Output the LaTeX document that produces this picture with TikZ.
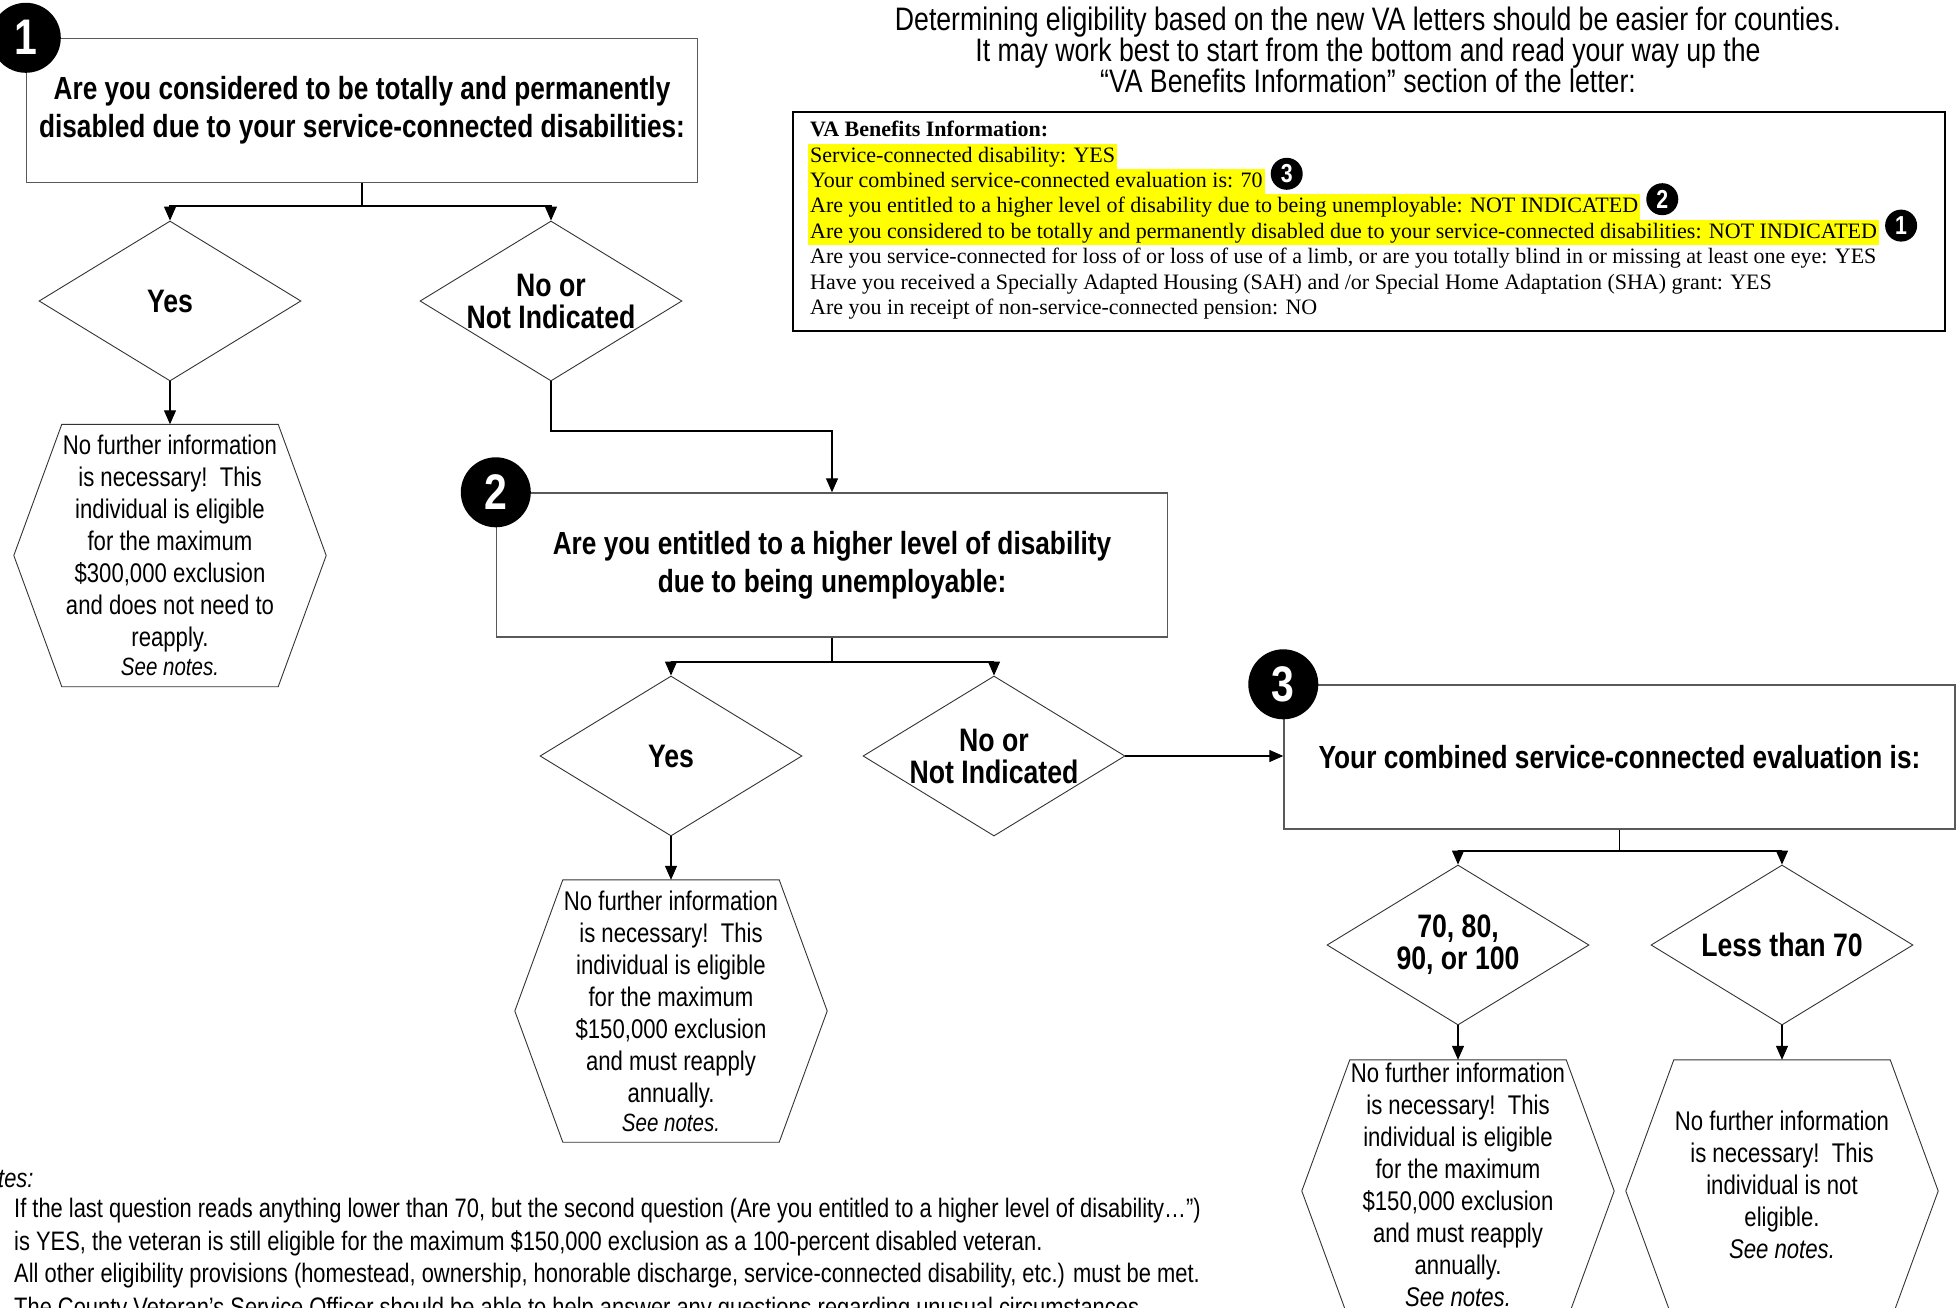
\documentclass[tikz,border=0pt]{standalone}
\usepackage{fontspec}
\setmainfont{Liberation Sans}[FakeStretch=0.82]
\newfontfamily\vafont{Liberation Serif}
\usetikzlibrary{shapes.geometric,arrows.meta}
\definecolor{hl}{RGB}{255,255,0}
\newcommand\hexout[1]{\draw[hexline] ([xshift=48pt]#1.north west) -- ([xshift=-48pt]#1.north east) -- (#1.east) -- ([xshift=-48pt]#1.south east) -- ([xshift=48pt]#1.south west) -- (#1.west) -- cycle;}
\begin{document}
\begin{tikzpicture}[x=1pt,y=-1pt,
  qbox/.style={draw=black!65, line width=1.4pt, minimum width=671pt, minimum height=144pt, align=center, inner sep=0pt, font=\fontsize{32}{38}\selectfont\bfseries},
  dia/.style={diamond, draw=black!80, line width=0.9pt, minimum width=262pt, minimum height=160pt, inner sep=0pt},
  dtext/.style={align=center, inner sep=0pt, font=\fontsize{32.5}{32}\selectfont\bfseries},
  hexn/.style={minimum width=312pt, minimum height=262pt, inner sep=0pt},
  htext/.style={align=center, inner sep=0pt, font=\fontsize{27}{32}\selectfont},
  hexline/.style={draw=black!80, line width=0.9pt},
  arr/.style={draw=black, line width=1.2pt, -{Triangle[length=14pt,width=12pt]}},
  conn/.style={draw=black, line width=1.2pt},
  numc/.style={circle, fill=black, minimum size=70pt, inner sep=0pt, text=white, font=\fontsize{50}{50}\selectfont\bfseries},
  smallc/.style={circle, fill=black, minimum size=32pt, inner sep=0pt, text=white, font=\fontsize{26}{26}\selectfont\bfseries},
  valine/.style={anchor=west, inner xsep=2pt, inner ysep=0pt, text height=18.5pt, text depth=6.9pt, font=\vafont\fontsize{22}{25}\selectfont},
  hlline/.style={valine, fill=hl},
  notes/.style={anchor=west, inner sep=0pt, font=\fontsize{26.7}{32}\selectfont}
]
\useasboundingbox (0,0) rectangle (1959,1308);
\clip (0,0) rectangle (1959,1308);

% title
\node (title) [align=center, font=\fontsize{32.5}{31}\selectfont] at (1368,50)
 {Determining eligibility based on the new VA letters should be easier for counties.\\
  It may work best to start from the bottom and read your way up the\\
  “VA Benefits Information” section of the letter:};

% VA letter excerpt
\node (va) [draw=black, line width=2pt, minimum width=1152pt, minimum height=219pt, anchor=north west, inner sep=0pt] at (792,111) {};
\node (l1) [valine] at (808,131) {\bfseries VA Benefits Information:};
\node (l2) [hlline] at (808,156.4) {Service-connected disability: YES};
\node (l3) [hlline] at (808,181.8) {Your combined service-connected evaluation is: 70};
\node (l4) [hlline] at (808,207.2) {Are you entitled to a higher level of disability due to being unemployable: NOT INDICATED};
\node (l5) [hlline] at (808,232.6) {Are you considered to be totally and permanently disabled due to your service-connected disabilities: NOT INDICATED};
\node (l6) [valine] at (808,258) {Are you service-connected for loss of or loss of use of a limb, or are you totally blind in or missing at least one eye: YES};
\node (l7) [valine] at (808,283.4) {Have you received a Specially Adapted Housing (SAH) and /or Special Home Adaptation (SHA) grant: YES};
\node (l8) [valine] at (808,308.8) {Are you in receipt of non-service-connected pension: NO};
\node (c3) [smallc] at ([xshift=22pt,yshift=8pt]l3.east) {3};
\node (c2) [smallc] at ([xshift=22pt,yshift=8pt]l4.east) {2};
\node (c1) [smallc] at ([xshift=22pt,yshift=7pt]l5.east) {1};

% question 1
\node (b1) [qbox] at (362,110.5) {Are you considered to be totally and permanently\\disabled due to your service-connected disabilities:};
\node (n1) [numc] at (b1.north west) {1};
\node (d1y) [dia, label={[dtext]center:Yes}] at (170,301) {};
\node (d1n) [dia, label={[dtext]center:No or\\Not Indicated}] at (551,301) {};
\node (h1) [hexn, label={[htext]center:No further information\\is necessary!~~This\\individual is eligible\\for the maximum\\\$300,000 exclusion\\and does not need to\\reapply.\\[-3pt]{\itshape\fontsize{25}{26}\selectfont See notes.}}] at (170,555.5) {};
\hexout{h1}

% question 2
\node (b2) [qbox] at (832,565) {Are you entitled to a higher level of disability\\due to being unemployable:};
\node (n2) [numc] at (b2.north west) {2};
\node (d2y) [dia, label={[dtext]center:Yes}] at (671,756) {};
\node (d2n) [dia, label={[dtext]center:No or\\Not Indicated}] at (994,756) {};
\node (h2) [hexn, label={[htext]center:No further information\\is necessary!~~This\\individual is eligible\\for the maximum\\\$150,000 exclusion\\and must reapply\\annually.\\[-3pt]{\itshape\fontsize{25}{26}\selectfont See notes.}}] at (671,1011) {};
\hexout{h2}

% question 3
\node (b3) [qbox] at (1619.5,757) {Your combined service-connected evaluation is:};
\node (n3) [numc] at (b3.north west) {3};
\node (d3a) [dia, label={[dtext]center:70, 80,\\90, or 100}] at (1458,945) {};
\node (d3b) [dia, label={[dtext]center:Less than 70}] at (1782,945) {};
\node (h3) [hexn, label={[htext,yshift=6pt]center:No further information\\is necessary!~~This\\individual is eligible\\for the maximum\\\$150,000 exclusion\\and must reapply\\annually.\\{\itshape See notes.}}] at (1458,1191) {};
\hexout{h3}
\node (h4) [hexn, label={[htext,yshift=6pt]center:No further information\\is necessary!~~This\\individual is not\\eligible.\\{\itshape See notes.}}] at (1782,1191) {};
\hexout{h4}

% connectors
\coordinate (j1) at (362,206);
\draw[conn] (b1.south) -- (j1);
\draw[arr] (j1) -| (d1y.north);
\draw[arr] (j1) -| (d1n.north);
\draw[arr] (d1y.south) -- (h1.north);
\coordinate (j2) at (551,431);
\draw[arr] (d1n.south) -- (j2) -| (b2.north);
\coordinate (j3) at (832,662);
\draw[conn] (b2.south) -- (j3);
\draw[arr] (j3) -| (d2y.north);
\draw[arr] (j3) -| (d2n.north);
\draw[arr] (d2y.south) -- (h2.north);
\draw[arr] (d2n.east) -- (d2n.east -| b3.west);
\coordinate (j4) at (1619.5,851);
\draw[conn] (b3.south) -- (j4);
\draw[arr] (j4) -| (d3a.north);
\draw[arr] (j4) -| (d3b.north);
\draw[arr] (d3a.south) -- (h3.north);
\draw[arr] (d3b.south) -- (h4.north);

% notes
\node (nt) [notes, font=\fontsize{26.7}{32}\selectfont\itshape] at (-30,1178) {Notes:};
\node (nl1) [notes] at (14,1211) {If the last question reads anything lower than 70, but the second question (Are you entitled to a higher level of disability…”)};
\node (nl2) [notes] at (14,1243) {is YES, the veteran is still eligible for the maximum \$150,000 exclusion as a 100-percent disabled veteran.};
\node (nl3) [notes] at (14,1276) {All other eligibility provisions (homestead, ownership, honorable discharge, service-connected disability, etc.) must be met.};
\node (nl4) [notes] at (14,1310) {The County Veteran's Service Officer should be able to help answer any questions regarding unusual circumstances.};
\end{tikzpicture}
\end{document}
